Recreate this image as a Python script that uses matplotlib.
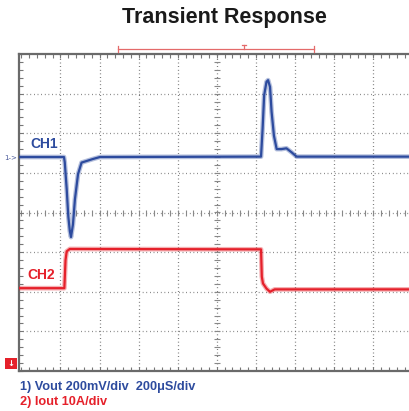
import matplotlib
matplotlib.use("Agg")
import matplotlib.pyplot as plt
from matplotlib.lines import Line2D
from matplotlib.patches import Rectangle
from matplotlib.ticker import MultipleLocator, NullFormatter
import numpy as np

# ---- data (time and amplitude in screen divisions) ----
ch1_t = [-5.06, -3.91, -3.89, -3.84, -3.80, -3.76, -3.73, -3.68, -3.63, -3.55, -3.46,
         -3.17, -2.99, 1.13, 1.17, 1.21, 1.27, 1.31, 1.36, 1.40, 1.46, 1.53, 1.65,
         1.78, 1.91, 2.04, 4.94]
ch1_v = [1.40, 1.40, 1.27, 0.59, -0.09, -0.47, -0.62, -0.30, 0.33, 0.97, 1.26,
         1.35, 1.40, 1.41, 2.11, 2.96, 3.30, 3.34, 3.17, 2.54, 1.94, 1.60, 1.60,
         1.62, 1.52, 1.41, 1.41]
ch2_t = [-5.06, -3.90, -3.87, -3.84, -3.76, 1.13, 1.15, 1.18, 1.27, 1.36, 1.48, 4.94]
ch2_v = [-1.91, -1.91, -1.20, -0.98, -0.92, -0.93, -1.62, -1.79, -1.92, -2.00, -1.94, -1.94]

title = "Transient Response"
ch1_label = "CH1"
ch2_label = "CH2"
legend1 = "1) Vout 200mV/div  200\u03bcS/div"
legend2 = "2) Iout 10A/div"

BLUE = "#2d4b9e"
RED = "#e5202a"
W, H = 410, 411

fig = plt.figure(figsize=(W / 100, H / 100), dpi=100)
fig.patch.set_facecolor("white")

def fx(x):
    return x / W

def fy(y):
    return 1 - y / H

left, right, top, bottom = 19, 410, 54, 371
ax = fig.add_axes([fx(left), fy(bottom), (right - left) / W, (bottom - top) / H])
ax.set_xlim(-5.06, 4.94)
ax.set_ylim(-4, 4)
ax.set_facecolor("white")

# borders
for s in ["top", "bottom", "left"]:
    ax.spines[s].set_color("#6a6a6a")
    ax.spines[s].set_linewidth(1.6)
ax.spines["right"].set_visible(False)
ax.xaxis.set_major_locator(MultipleLocator(1))
ax.xaxis.set_minor_locator(MultipleLocator(0.2))
ax.yaxis.set_major_locator(MultipleLocator(1))
ax.yaxis.set_minor_locator(MultipleLocator(0.2))
ax.xaxis.set_major_formatter(NullFormatter())
ax.yaxis.set_major_formatter(NullFormatter())
ax.tick_params(which="both", direction="in", top=True, bottom=True, left=True, right=False,
               length=3, width=0.8, color="#777777", labelbottom=False, labelleft=False)

# dotted grid
dots = (0, (0.6, 2.3))
for gx in np.arange(-5, 5, 1):
    if gx > -5:
        ax.plot([gx, gx], [-4, 4], color="#555555", lw=0.9, linestyle=dots, zorder=1)
for gy in np.arange(-3, 4, 1):
    ax.plot([-5.06, 4.94], [gy, gy], color="#666666", lw=0.9, linestyle=dots, zorder=1)
# centre-axis cross ticks
xt = np.arange(-5, 5.01, 0.2)
ax.plot(xt, np.zeros_like(xt), linestyle="none", marker="|", ms=4, mew=0.8, color="#888888", zorder=1)
yt = np.arange(-4, 4.01, 0.2)
ax.plot(np.zeros_like(yt), yt, linestyle="none", marker="_", ms=4, mew=0.8, color="#888888", zorder=1)

# traces
ax.plot(ch1_t, ch1_v, color=BLUE, lw=3.4, alpha=0.35, solid_joinstyle="round", zorder=3)
ax.plot(ch1_t, ch1_v, color=BLUE, lw=1.6, solid_joinstyle="round", zorder=4)
ax.plot(ch2_t, ch2_v, color=RED, lw=3.4, alpha=0.35, solid_joinstyle="round", zorder=3)
ax.plot(ch2_t, ch2_v, color=RED, lw=1.6, solid_joinstyle="round", zorder=4)

# channel labels
fig.text(fx(30), fy(143.5), ch1_label, color=BLUE, fontsize=10, fontweight="bold",
         family="Liberation Sans", va="center", ha="left")
fig.text(fx(27), fy(275), ch2_label, color=RED, fontsize=10, fontweight="bold",
         family="Liberation Sans", va="center", ha="left")
fig.text(fx(4), fy(158), "1->", color="#4a5a9a", fontsize=5, family="DejaVu Sans",
         va="center", ha="left")

# title
fig.text(fx(224), fy(17.5), title, fontsize=15.5, fontweight="bold", family="Liberation Sans",
         ha="center", va="center", color="#1a1a1a")

# legend text
fig.text(fx(20), fy(386.5), legend1, color=BLUE, fontsize=9.2, fontweight="bold",
         family="Liberation Sans", ha="left", va="center")
fig.text(fx(20), fy(401.5), legend2, color=RED, fontsize=9.2, fontweight="bold",
         family="Liberation Sans", ha="left", va="center")

# red ground marker
fig.patches.append(Rectangle((fx(5), fy(369)), 12 / W, 11 / H, transform=fig.transFigure,
                             facecolor=RED, edgecolor="none"))
fig.text(fx(11), fy(363.5), "\u2193", color="white", fontsize=6, fontweight="bold",
         ha="center", va="center", family="DejaVu Sans")

# top cursor bar
CUR = "#e46a6a"
def fline(xs, ys, **kw):
    fig.add_artist(Line2D([fx(v) for v in xs], [fy(v) for v in ys], transform=fig.transFigure, **kw))
fline([118, 314], [49, 49], color=CUR, lw=0.9)
fline([118, 118], [46, 52], color=CUR, lw=0.9)
fline([314, 314], [46, 52], color=CUR, lw=0.9)
fline([244, 244], [45, 49], color=CUR, lw=0.9)
fline([242, 246], [45, 45], color=CUR, lw=0.9)

fig.savefig("out.png", dpi=100, facecolor="white")
